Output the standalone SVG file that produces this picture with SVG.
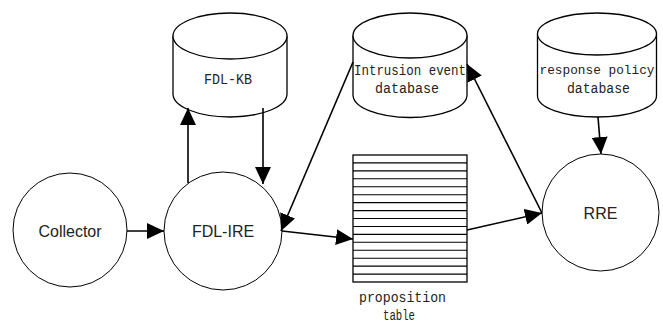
<svg xmlns="http://www.w3.org/2000/svg" width="663" height="325" viewBox="0 0 663 325">
<style>
.node{fill:#fff;stroke:#000;stroke-width:1}
.cyl{fill:#fff;stroke:#000;stroke-width:1.3}
.lbl{font-family:"Liberation Sans",Arial,sans-serif;font-size:16px;fill:#222;text-anchor:middle}
.mono{font-family:"Liberation Mono","DejaVu Sans Mono",monospace;font-size:14px;fill:#222;text-anchor:start}
.edge{stroke:#000;stroke-width:1.6;fill:none;marker-end:url(#ah)}
.row{stroke:#000;stroke-width:1.1}
</style>
<defs>
<marker id="ah" markerUnits="userSpaceOnUse" markerWidth="18" markerHeight="16" refX="17" refY="8" orient="auto">
<path d="M0,0 L17,8 L0,16 z" fill="#000"/>
</marker>
</defs>
<rect width="663" height="325" fill="#fff"/>
<g id="collector">
<circle class="node" cx="70" cy="230" r="57"/>
<text class="lbl" x="70" y="236.5">Collector</text>
</g>
<g id="fdl-ire">
<circle class="node" cx="223" cy="231" r="59"/>
<text class="lbl" x="223" y="237">FDL-IRE</text>
</g>
<g id="rre">
<circle class="node" cx="600.5" cy="212.5" r="58.5"/>
<text class="lbl" x="600.5" y="218.5">RRE</text>
</g>
<g id="fdl-kb">
<path class="cyl" d="M173,36 L173,94 A57,23 0 0 0 287,94 L287,36"/>
<ellipse class="cyl" cx="230" cy="36" rx="57" ry="23"/>
<text class="mono" x="204" y="84" textLength="48" lengthAdjust="spacingAndGlyphs">FDL-KB</text>
</g>
<g id="intrusion-db">
<path class="cyl" d="M353,35.5 L353,95 A57,22.5 0 0 0 467,95 L467,35.5"/>
<ellipse class="cyl" cx="410" cy="35.5" rx="57" ry="22.5"/>
<text class="mono" x="354" y="75" textLength="112" lengthAdjust="spacingAndGlyphs">Intrusion event</text>
<text class="mono" x="375" y="93" textLength="64" lengthAdjust="spacingAndGlyphs">database</text>
</g>
<g id="response-db">
<path class="cyl" d="M537.5,34 L537.5,96 A59.5,21 0 0 0 656.5,96 L656.5,34"/>
<ellipse class="cyl" cx="597" cy="34" rx="59.5" ry="21"/>
<text class="mono" x="539.5" y="74" style="font-size:13.6px" textLength="115" lengthAdjust="spacingAndGlyphs">response policy</text>
<text class="mono" x="567" y="93" textLength="63" lengthAdjust="spacingAndGlyphs">database</text>
</g>
<g id="proposition-table">
<rect x="353" y="155" width="114" height="127" fill="#fff" stroke="#000" stroke-width="1.3"/>
<path class="row" d="M353,162.9H467M353,170.9H467M353,178.8H467M353,186.8H467M353,194.7H467M353,202.6H467M353,210.6H467M353,218.5H467M353,226.5H467M353,234.4H467M353,242.3H467M353,250.3H467M353,258.2H467M353,266.1H467M353,274.1H467"/>
<text class="mono" x="359" y="302" textLength="87" lengthAdjust="spacingAndGlyphs">proposition</text>
<text class="mono" x="383" y="320" textLength="32" lengthAdjust="spacingAndGlyphs">table</text>
</g>
<g id="connectors">
<line class="edge" x1="127" y1="231" x2="164" y2="231"/>
<line class="edge" x1="188" y1="183" x2="188" y2="108"/>
<line class="edge" x1="263" y1="108" x2="263" y2="184"/>
<line class="edge" x1="353" y1="62" x2="281" y2="231"/>
<line class="edge" x1="282" y1="231" x2="353" y2="239"/>
<line class="edge" x1="467" y1="230" x2="542" y2="213"/>
<line class="edge" x1="542" y1="213" x2="467" y2="64"/>
<line class="edge" x1="598" y1="117" x2="601" y2="154"/>
</g>
</svg>
